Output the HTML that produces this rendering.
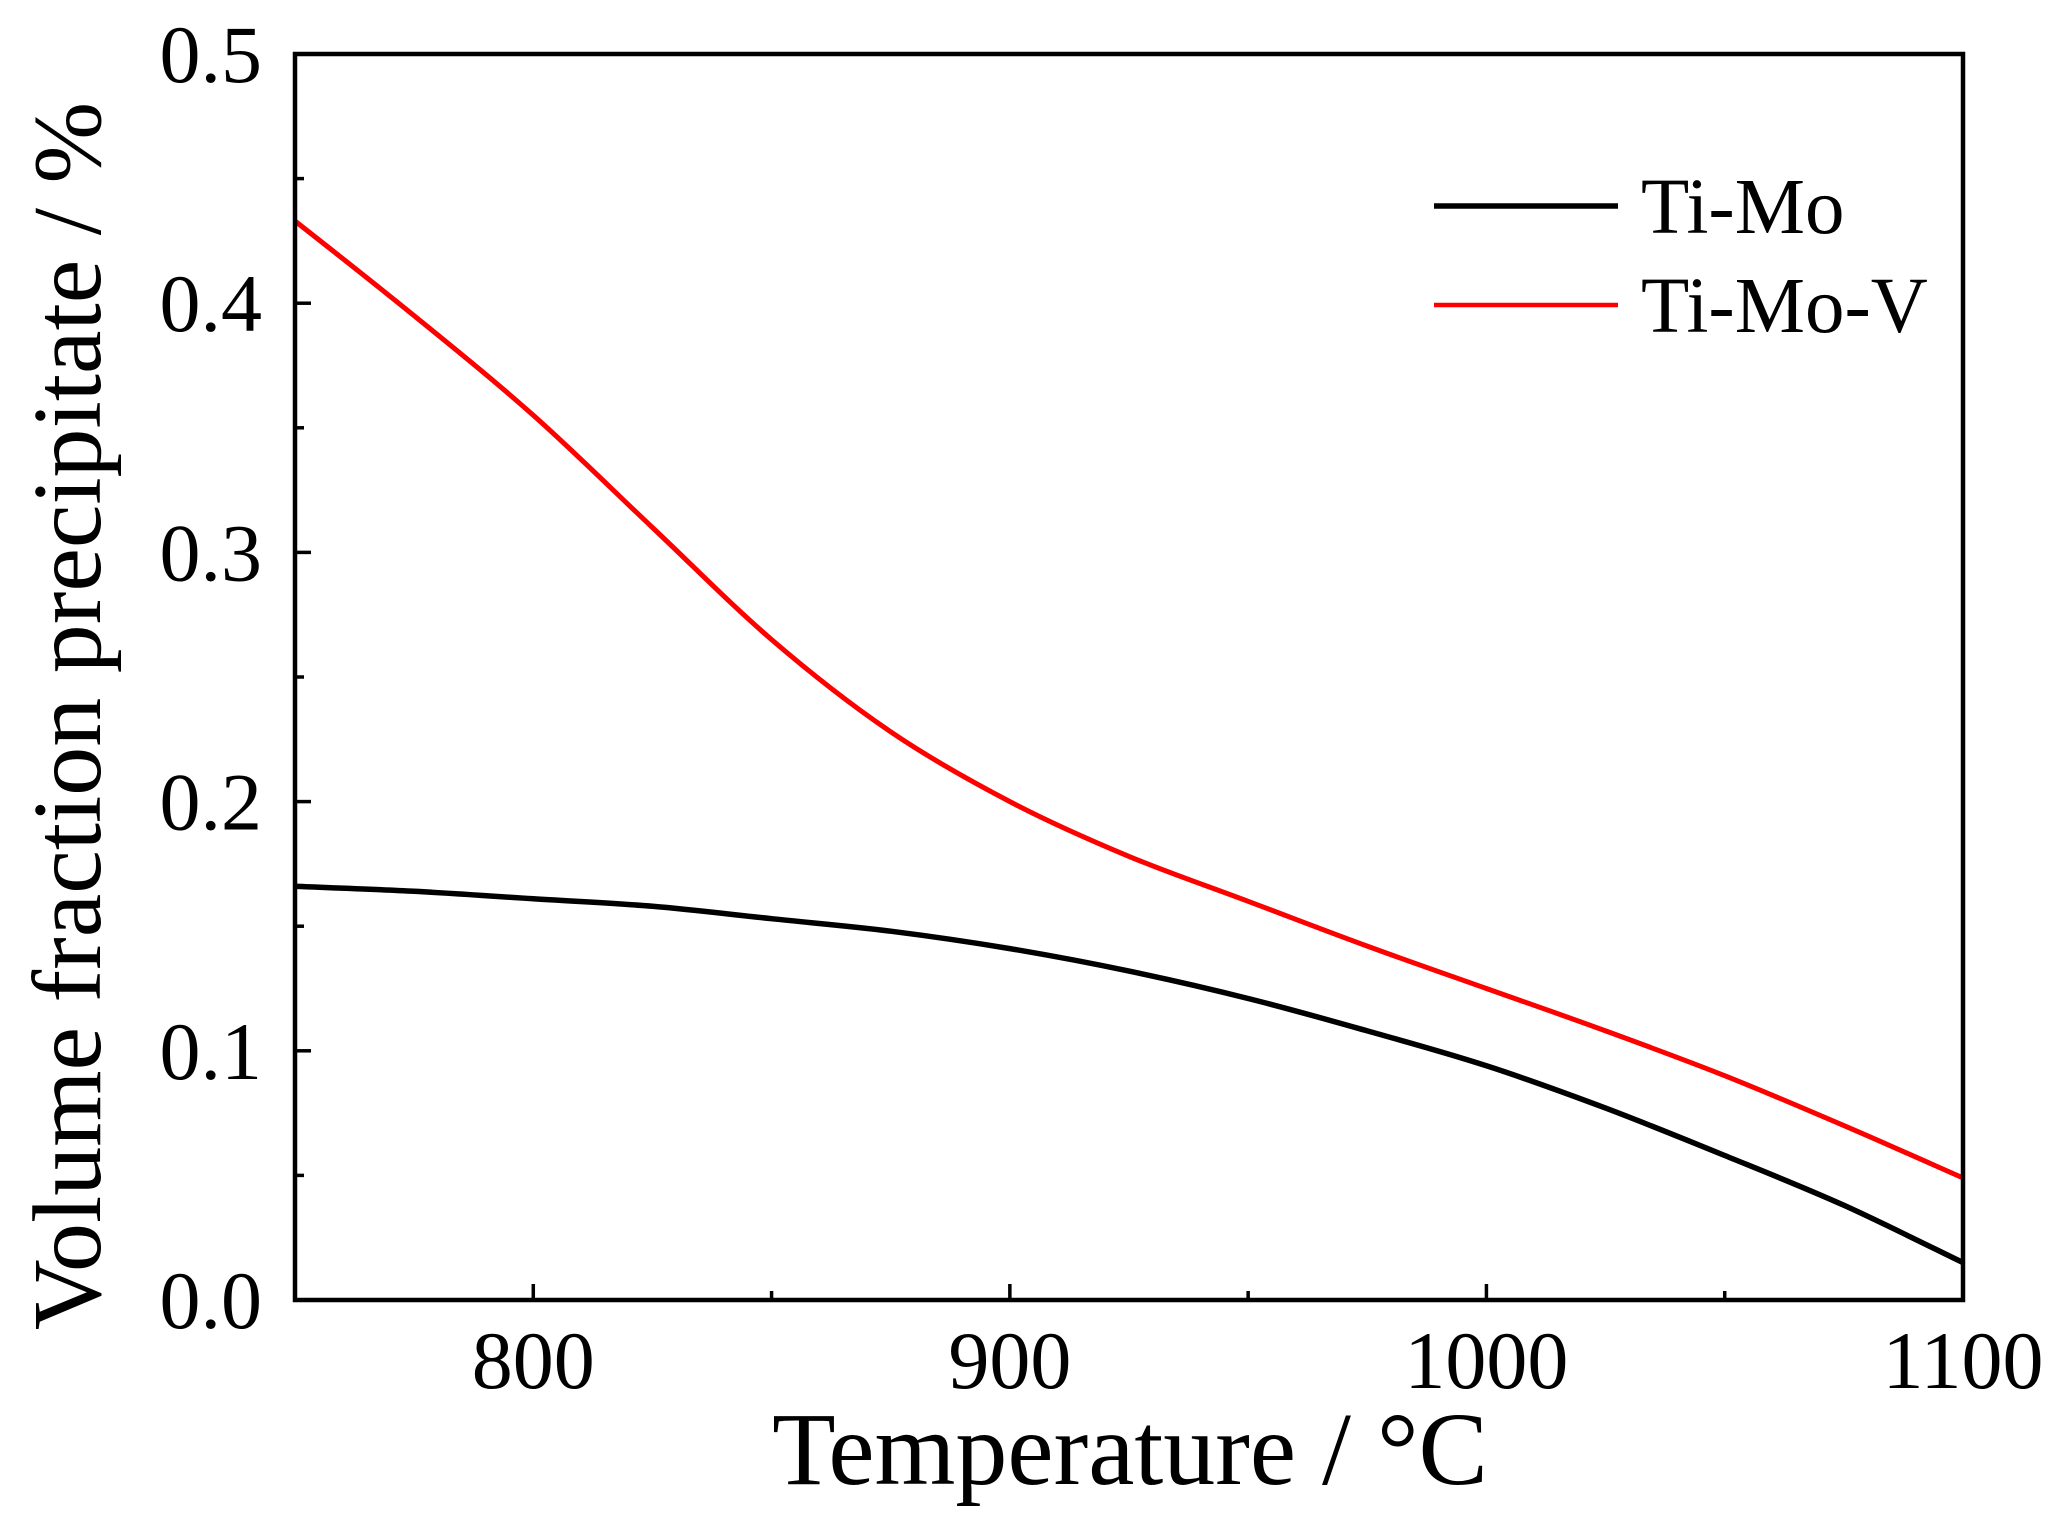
<!DOCTYPE html>
<html><head><meta charset="utf-8"><style>
html,body{margin:0;padding:0;background:#fff;}
svg{display:block;font-family:"Liberation Serif","Times New Roman",serif;}
</style></head><body>
<svg id="chart" width="2059" height="1517" viewBox="0 0 2059 1517">
<g id="plot"></g>
<rect x="295" y="54" width="1668" height="1246" fill="none" stroke="#000" stroke-width="4.5"/>
<g>
<line x1="1434" y1="206" x2="1618" y2="206" stroke="#000" stroke-width="5.5"/>
<text x="1641" y="233" font-size="79">Ti-Mo</text>
<line x1="1434" y1="305" x2="1618" y2="305" stroke="#f00" stroke-width="4.5"/>
<text x="1641" y="332" font-size="79">Ti-Mo-V</text>
</g>
<text x="1130" y="1484" font-size="104" text-anchor="middle">Temperature / °C</text>
<text transform="translate(100,716) rotate(-90)" font-size="98" text-anchor="middle">Volume fraction precipitate / %</text>
</svg>
<script>
const temps=[750,775,800,825,850,875,900,925,950,975,1000,1025,1050,1075,1100];
const tiMo=[0.166,0.164,0.161,0.158,0.153,0.148,0.141,0.132,0.121,0.108,0.094,0.077,0.058,0.038,0.015];
const tiMoV=[0.433,0.395,0.355,0.31,0.265,0.228,0.200,0.178,0.160,0.142,0.125,0.108,0.090,0.070,0.049];
const xTicks=[800,900,1000,1100];
const yTicks=[0.0,0.1,0.2,0.3,0.4,0.5];
const yTickLabels=["0.0","0.1","0.2","0.3","0.4","0.5"];
const xMin=750,xMax=1100,yMin=0,yMax=0.5;
const L=295,R=1963,T=54,B=1300;
const X=v=>L+(v-xMin)/(xMax-xMin)*(R-L);
const Y=v=>B-(v-yMin)/(yMax-yMin)*(B-T);
const NS="http://www.w3.org/2000/svg";
const g=document.getElementById('plot');
function mk(t,a){const e=document.createElementNS(NS,t);for(const k in a)e.setAttribute(k,a[k]);g.appendChild(e);return e;}
function path(xs,ys){
 const p=xs.map((x,i)=>[X(x),Y(ys[i])]);
 let d="M"+p[0][0].toFixed(1)+","+p[0][1].toFixed(1);
 for(let i=0;i<p.length-1;i++){
  const p0=p[Math.max(i-1,0)],p1=p[i],p2=p[i+1],p3=p[Math.min(i+2,p.length-1)];
  const c1=[p1[0]+(p2[0]-p0[0])/6,p1[1]+(p2[1]-p0[1])/6];
  const c2=[p2[0]-(p3[0]-p1[0])/6,p2[1]-(p3[1]-p1[1])/6];
  d+="C"+c1[0].toFixed(1)+","+c1[1].toFixed(1)+" "+c2[0].toFixed(1)+","+c2[1].toFixed(1)+" "+p2[0].toFixed(1)+","+p2[1].toFixed(1);
 }
 return d;
}
for(let v=xMin;v<=xMax;v+=50){
 const major=xTicks.includes(v);
 const t=mk('line',{x1:X(v),x2:X(v),y1:B,y2:B-(major?16:9),stroke:'#000','stroke-width':3.5});
 
 
}
xTicks.forEach(v=>{
 const t=mk('text',{x:X(v),y:1388,'font-size':82,'text-anchor':'middle'});t.textContent=String(v);
 
 
});
for(let i=0;i<=10;i++){
 const v=i*0.05;
 const t=mk('line',{x1:L,x2:L+(i%2===0?16:9),y1:Y(v),y2:Y(v),stroke:'#000','stroke-width':3.5});
 
 
}
yTicks.forEach((v,i)=>{
 const t=mk('text',{x:262,y:Y(v)+28,'font-size':82,'text-anchor':'end'});t.textContent=yTickLabels[i];
 
 
});
const l1=mk('path',{d:path(temps,tiMo),fill:'none',stroke:'#000','stroke-width':5.5,'stroke-linejoin':'round'});


const l2=mk('path',{d:path(temps,tiMoV),fill:'none',stroke:'#f00','stroke-width':5,'stroke-linejoin':'round'});


</script>
</body></html>
